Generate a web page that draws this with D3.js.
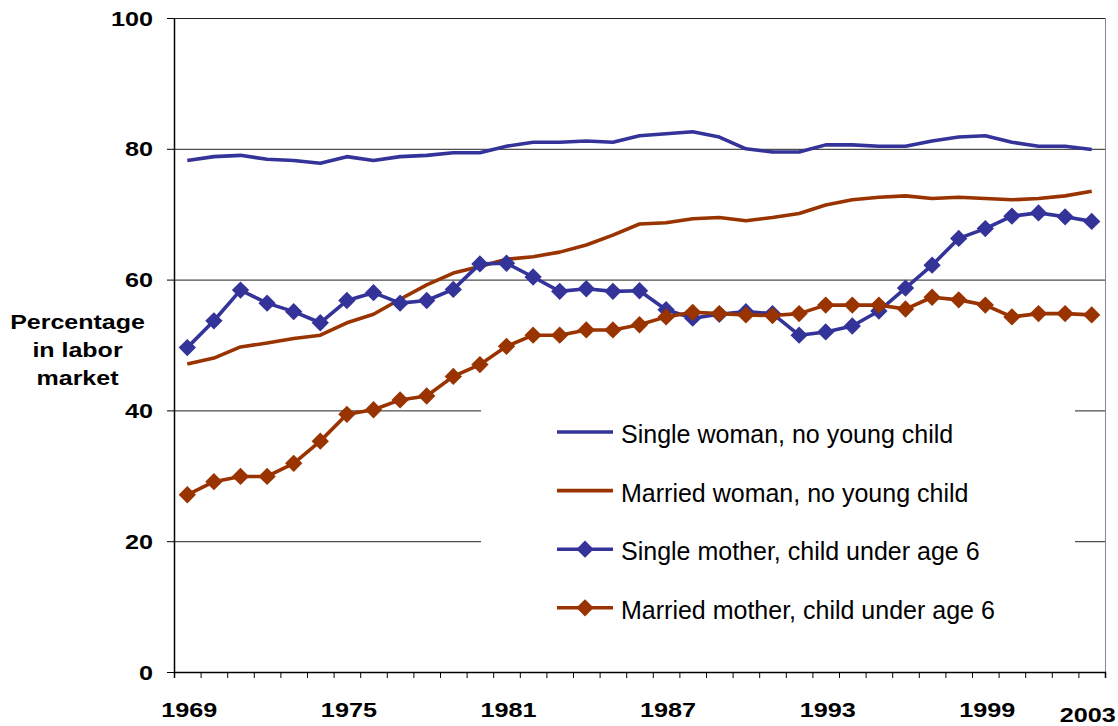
<!DOCTYPE html>
<html>
<head>
<meta charset="utf-8">
<script src="https://cdn.jsdelivr.net/npm/d3@7"></script>
<style>
  body { margin: 0; background: #fff; }
  svg { display: block; font-family: "Liberation Sans", Arial, sans-serif; }
</style>
</head>
<body>
<svg id="chart" width="1118" height="726"></svg>
<script>
const years = [1969, 1970, 1971, 1972, 1973, 1974, 1975, 1976, 1977, 1978,
  1979, 1980, 1981, 1982, 1983, 1984, 1985, 1986, 1987, 1988,
  1989, 1990, 1991, 1992, 1993, 1994, 1995, 1996, 1997, 1998,
  1999, 2000, 2001, 2002, 2003];

const labelYears = [1969, 1975, 1981, 1987, 1993, 1999, 2003];
const yTicks = [0, 20, 40, 60, 80, 100];

const singleWoman = [78.2, 78.8, 79.0, 78.4, 78.2, 77.8, 78.8, 78.2, 78.8, 79.0,
  79.4, 79.4, 80.4, 81.0, 81.0, 81.2, 81.0, 82.0, 82.3, 82.6,
  81.8, 80.0, 79.5, 79.5, 80.6, 80.6, 80.4, 80.4, 81.2, 81.8,
  82.0, 81.0, 80.4, 80.4, 79.9];

const marriedWoman = [47.1, 48.0, 49.7, 50.3, 51.0, 51.5, 53.4, 54.7, 57.0, 59.2,
  61.0, 62.0, 63.1, 63.5, 64.2, 65.3, 66.8, 68.5, 68.7, 69.3,
  69.5, 69.0, 69.5, 70.1, 71.4, 72.2, 72.6, 72.8, 72.4, 72.6,
  72.4, 72.2, 72.4, 72.8, 73.5];

const singleMother = [49.6, 53.7, 58.4, 56.4, 55.1, 53.4, 56.8, 58.0, 56.4, 56.8,
  58.5, 62.4, 62.5, 60.4, 58.2, 58.6, 58.2, 58.3, 55.4, 54.1,
  54.7, 55.1, 54.8, 51.5, 52.0, 52.9, 55.2, 58.7, 62.2, 66.3,
  67.8, 69.7, 70.2, 69.6, 68.9];

const marriedMother = [27.1, 29.1, 29.9, 29.9, 31.9, 35.3, 39.4, 40.1, 41.6, 42.2,
  45.2, 47.0, 49.8, 51.5, 51.5, 52.3, 52.3, 53.1, 54.3, 55.0,
  54.8, 54.6, 54.5, 54.8, 56.1, 56.1, 56.1, 55.5, 57.3, 56.9,
  56.1, 54.3, 54.8, 54.8, 54.6];

const seriesNames = ["Single woman, no young child", "Married woman, no young child",
  "Single mother, child under age 6", "Married mother, child under age 6"];

const blue = "#333399";
const rust = "#993300";

const series = [
  { name: seriesNames[0], values: singleWoman, color: blue, marker: false },
  { name: seriesNames[1], values: marriedWoman, color: rust, marker: false },
  { name: seriesNames[2], values: singleMother, color: blue, marker: true },
  { name: seriesNames[3], values: marriedMother, color: rust, marker: true }
];

const plotLeft = 174, plotRight = 1105, plotTop = 18, plotBottom = 672;

const svg = d3.select("#chart");

let x = d3.scaleBand()
  .domain(years)
  .range([plotLeft, plotRight])
  .padding(0);

let xTicks = d3.scaleLinear()
  .domain([0, years.length])
  .range([plotLeft, plotRight]);

let y = d3.scaleLinear()
  .domain([0, 100])
  .range([plotBottom, plotTop]);

let cx = d => x(d) + x.bandwidth() / 2;

// gridlines
svg.append("g")
  .selectAll("line")
  .data(yTicks.filter(d => d > 0))
  .enter().append("line")
  .attr("x1", plotLeft).attr("x2", plotRight)
  .attr("y1", d => y(d) + 0.5).attr("y2", d => y(d) + 0.5)
  .attr("stroke", "#222")
  .attr("stroke-width", 1);

// right border of plot area
svg.append("line")
  .attr("x1", plotRight + 0.5).attr("x2", plotRight + 0.5)
  .attr("y1", plotTop).attr("y2", plotBottom)
  .attr("stroke", "#888")
  .attr("stroke-width", 1);

// legend background hides gridlines
svg.append("rect")
  .attr("x", 481).attr("y", 396)
  .attr("width", 594).attr("height", 240)
  .attr("fill", "#fff");

// series
let line = d3.line()
  .x((d, i) => cx(years[i]))
  .y(d => y(d));

series.forEach(s => {
  svg.append("path")
    .datum(s.values)
    .attr("d", line)
    .attr("fill", "none")
    .attr("stroke", s.color)
    .attr("stroke-width", 3.6)
    .attr("stroke-linejoin", "round");

  if (s.marker) {
    svg.append("g")
      .selectAll("path")
      .data(s.values)
      .enter().append("path")
      .attr("d", d3.symbol(d3.symbolSquare, 150)())
      .attr("transform", (d, i) => "translate(" + cx(years[i]) + "," + y(d) + ") rotate(45)")
      .attr("fill", s.color);
  }
});

// axes
svg.append("g")
  .attr("transform", "translate(0," + plotBottom + ")")
  .call(d3.axisBottom(xTicks).ticks(years.length).tickFormat("").tickSize(6).tickSizeOuter(6))
  .call(g => g.select(".domain").attr("stroke", "#000").attr("stroke-width", 1.5));

svg.append("g")
  .attr("transform", "translate(" + plotLeft + ",0)")
  .call(d3.axisLeft(y).tickValues(yTicks).tickFormat("").tickSize(7).tickSizeOuter(0))
  .call(g => g.select(".domain").attr("stroke", "#000").attr("stroke-width", 1.5));

// y tick labels
svg.append("g")
  .selectAll("g")
  .data(yTicks)
  .enter().append("g")
  .attr("transform", d => "translate(153," + (y(d) + 7.5) + ")")
  .append("text")
  .attr("transform", "scale(1.2,1)")
  .attr("text-anchor", "end")
  .attr("font-size", 21)
  .attr("font-weight", "bold")
  .text(d => d);

// x tick labels
svg.append("g")
  .selectAll("g")
  .data(labelYears)
  .enter().append("g")
  .attr("transform", d => {
    let last = d === years[years.length - 1];
    return "translate(" + (cx(d) + (last ? -4 : 2)) + "," + (last ? 722 : 717) + ")";
  })
  .append("text")
  .attr("transform", "scale(1.2,1)")
  .attr("text-anchor", "middle")
  .attr("font-size", 21)
  .attr("font-weight", "bold")
  .text(d => d);

// y axis title
const titleLines = ["Percentage", "in labor", "market"];
svg.append("g")
  .selectAll("g")
  .data(titleLines)
  .enter().append("g")
  .attr("transform", (d, i) => "translate(77.5," + (329 + i * 28) + ")")
  .append("text")
  .attr("transform", "scale(1.25,1)")
  .attr("text-anchor", "middle")
  .attr("font-size", 20)
  .attr("font-weight", "bold")
  .text(d => d);

// legend
let legend = svg.append("g")
  .selectAll("g")
  .data(series)
  .enter().append("g")
  .attr("transform", (d, i) => "translate(557," + (432 + i * 58.6) + ")");

legend.append("line")
  .attr("x1", 0).attr("x2", 56)
  .attr("y1", 0).attr("y2", 0)
  .attr("stroke", d => d.color)
  .attr("stroke-width", 3.6);

legend.filter(d => d.marker)
  .append("path")
  .attr("d", d3.symbol(d3.symbolSquare, 150)())
  .attr("transform", "translate(28,0) rotate(45)")
  .attr("fill", d => d.color);

legend.append("text")
  .attr("x", 64)
  .attr("y", 11)
  .attr("font-size", 25)
  .attr("fill", "#000")
  .text(d => d.name);
</script>
</body>
</html>
